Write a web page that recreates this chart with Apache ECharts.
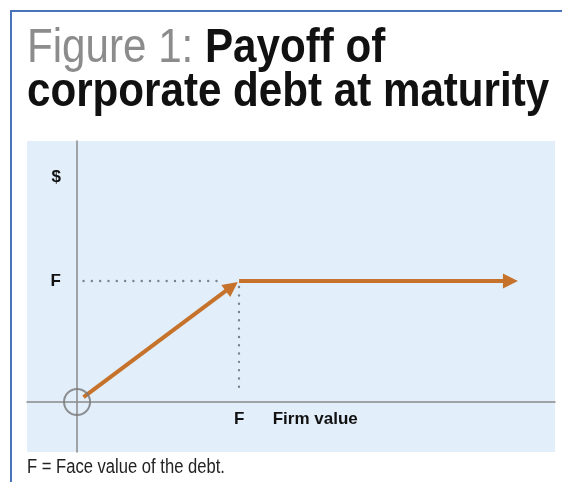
<!DOCTYPE html>
<html>
<head>
<meta charset="utf-8">
<script src="https://cdn.jsdelivr.net/npm/echarts@6/dist/echarts.min.js"></script>
<style>
  html, body { margin: 0; padding: 0; background: #fff; }
  #main { width: 562px; height: 482px; }
</style>
</head>
<body>
<div id="main"></div>
<script>
// payoff of the debt, in units of the face value F
const payoffX = [0.04, 0.955, 1, 2.675];
const payoffY = [0.04, 0.955, 1, 1];

// dotted guides to F on both axes
const guideH = [[0.04, 1], [0.865, 1]];
const guideV = [[1, 0.95], [1, 0.06]];

// tick labels
const xTickValues = [1, 1.47];
const xTickLabels = ["F", "Firm value"];
const yTickValues = [1, 1.86];
const yTickLabels = ["F", "$"];

const orange = "#c6722a";
const axisGray = "#8a8a8a";
const font = "Liberation Sans";
const narrow = 0.83; // no narrow face installed, so squeeze the sans horizontally

function tickLabel(values, labels) {
  return function (v) {
    let best = 0;
    for (let i = 0; i < values.length; i++) {
      if (Math.abs(values[i] - v) < Math.abs(values[best] - v)) best = i;
    }
    return labels[best];
  };
}

var chart = echarts.init(document.getElementById("main"));

chart.setOption({
  animation: false,
  grid: {
    left: 27,
    right: 7,
    top: 141,
    bottom: 30,
    show: true,
    backgroundColor: "#e2eefa",
    borderWidth: 0,
    outerBoundsMode: "none",
  },
  xAxis: {
    type: "value",
    min: -0.309,
    max: 2.95,
    splitLine: { show: false },
    axisTick: { show: false },
    axisLine: { onZero: true, lineStyle: { color: axisGray, width: 1.5 } },
    axisLabel: {
      customValues: xTickValues,
      formatter: tickLabel(xTickValues, xTickLabels),
      margin: -41,
      color: "#111",
      fontFamily: font,
      fontWeight: "bold",
      fontSize: 17,
    },
  },
  yAxis: {
    type: "value",
    min: -0.413,
    max: 2.157,
    splitLine: { show: false },
    axisTick: { show: false },
    axisLine: { onZero: true, lineStyle: { color: axisGray, width: 1.5 } },
    axisLabel: {
      customValues: yTickValues,
      formatter: tickLabel(yTickValues, yTickLabels),
      margin: -34,
      color: "#111",
      fontFamily: font,
      fontWeight: "bold",
      fontSize: 17,
    },
  },
  series: [
    {
      type: "lines",
      coordinateSystem: "cartesian2d",
      symbol: "none",
      lineStyle: { color: "#7a828c", width: 2.4, type: [0.01, 8.3], cap: "round", opacity: 1 },
      data: [{ coords: guideH }, { coords: guideV }],
      z: 2,
    },
    {
      type: "lines",
      coordinateSystem: "cartesian2d",
      symbol: ["none", "triangle"],
      symbolSize: 15,
      lineStyle: { color: orange, width: 4, opacity: 1 },
      data: [
        { coords: [[payoffX[0], payoffY[0]], [payoffX[1], payoffY[1]]] },
        { coords: [[payoffX[2], payoffY[2]], [payoffX[3], payoffY[3]]] },
      ],
      z: 3,
    },
    {
      type: "scatter",
      data: [[0, 0]],
      symbol: "circle",
      symbolSize: 26,
      itemStyle: { color: "rgba(0,0,0,0)", borderColor: "#777", borderWidth: 2 },
      z: 4,
    },
  ],
  graphic: [
    {
      type: "line",
      shape: { x1: 10, y1: 11, x2: 562, y2: 11 },
      style: { stroke: "#4a74b9", lineWidth: 2 },
    },
    {
      type: "line",
      shape: { x1: 11, y1: 10, x2: 11, y2: 482 },
      style: { stroke: "#4a74b9", lineWidth: 2 },
    },
    {
      type: "text",
      x: 27,
      y: 26,
      scaleX: 0.86,
      style: {
        text: "{g|Figure 1: }{b|Payoff of}\n{b|corporate debt at maturity}",
        verticalAlign: "top",
        rich: {
          g: { fill: "#8c8c8c", fontFamily: font, fontSize: 49, fontWeight: "normal", lineHeight: 44 },
          b: { fill: "#111", fontFamily: font, fontSize: 49, fontWeight: "bold", lineHeight: 44 },
        },
      },
    },
    {
      type: "text",
      x: 27,
      y: 467,
      scaleX: narrow,
      style: {
        text: "F = Face value of the debt.",
        fill: "#222",
        font: "20px '" + font + "'",
        verticalAlign: "middle",
      },
    },
  ],
});
</script>
</body>
</html>
